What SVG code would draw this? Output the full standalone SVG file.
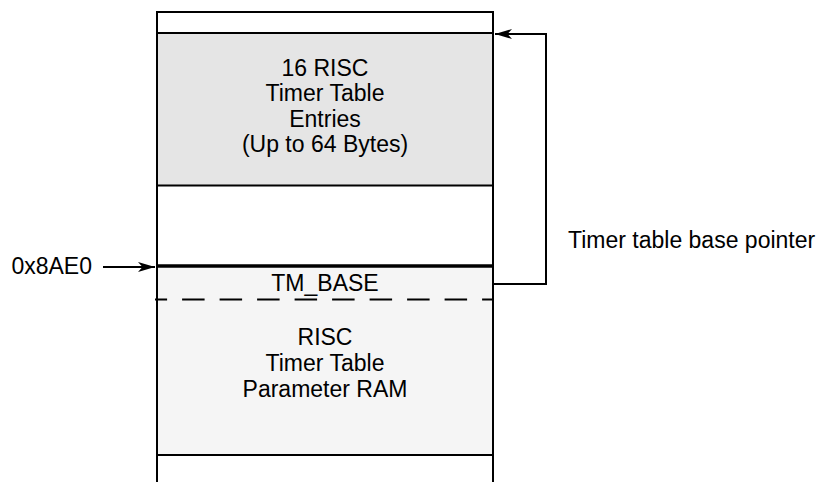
<svg xmlns="http://www.w3.org/2000/svg" width="823" height="482" viewBox="0 0 823 482">
  <style>
    .t { font-family: "Liberation Sans", Arial, sans-serif; font-size: 23px; fill: #000; }
    .c { text-anchor: middle; }
    .ln { stroke: #000; stroke-width: 2; fill: none; }
  </style>
  <defs>
    <marker id="arr" markerWidth="18" markerHeight="12" refX="17" refY="6" orient="auto" markerUnits="userSpaceOnUse">
      <path d="M0,1 L17,6 L0,11 L4.5,6 Z" fill="#000"/>
    </marker>
  </defs>
  <rect width="823" height="482" fill="#fff"/>

  <g id="entries">
    <rect x="157" y="33" width="336" height="152.5" fill="#e5e5e5"/>
    <text class="t c" x="325" y="75.5">16 RISC</text>
    <text class="t c" x="325" y="101">Timer Table</text>
    <text class="t c" x="325" y="126.5">Entries</text>
    <text class="t c" x="325" y="152">(Up to 64 Bytes)</text>
  </g>

  <g id="param-ram">
    <rect x="157" y="266" width="336" height="189" fill="#f5f5f5"/>
    <text class="t c" x="325" y="290.5">TM_BASE</text>
    <text class="t c" x="325" y="345">RISC</text>
    <text class="t c" x="325" y="371">Timer Table</text>
    <text class="t c" x="325" y="397">Parameter RAM</text>
  </g>

  <g id="frame">
    <line class="ln" x1="157" y1="11" x2="157" y2="482"/>
    <line class="ln" x1="493" y1="11" x2="493" y2="482"/>
    <line class="ln" x1="156" y1="12" x2="494" y2="12"/>
    <line class="ln" x1="156" y1="33" x2="494" y2="33"/>
    <line class="ln" x1="156" y1="185.5" x2="494" y2="185.5"/>
    <line x1="156" y1="266" x2="494" y2="266" stroke="#000" stroke-width="3.5"/>
    <line x1="155" y1="299.5" x2="494" y2="299.5" stroke="#000" stroke-width="2" stroke-dasharray="22.5 15" stroke-dashoffset="10.4"/>
    <line class="ln" x1="156" y1="455" x2="494" y2="455"/>
  </g>

  <g id="address-label">
    <text class="t" x="92" y="273.5" text-anchor="end">0x8AE0</text>
  </g>

  <g id="pointer-label">
    <text class="t" x="568" y="248">Timer table base pointer</text>
  </g>

  <g id="connectors">
    <line class="ln" x1="103" y1="267" x2="155" y2="267" marker-end="url(#arr)"/>
    <polyline class="ln" points="494,284 546,284 546,34 495,34" marker-end="url(#arr)"/>
  </g>
</svg>
